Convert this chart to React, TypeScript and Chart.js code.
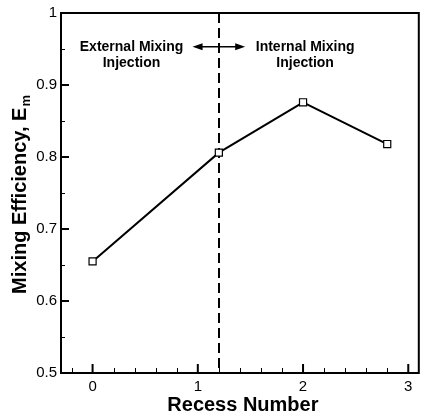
import { useEffect, useRef } from "react";
import { Chart, registerables } from "chart.js";

Chart.register(...registerables);

// ---- data ----
const RECESS = [0, 1.2, 2, 2.8];
const EFFICIENCY = [0.655, 0.806, 0.876, 0.818];

// ---- axes ----
const X_MIN = -0.3;
const X_MAX = 3.1;
const Y_MIN = 0.5;
const Y_MAX = 1;
const X_MAJOR = [0, 1, 2, 3];
const X_MINOR = [-0.2, 0.2, 0.4, 0.6, 0.8, 1.2, 1.4, 1.6, 1.8, 2.2, 2.4, 2.6, 2.8, 3.0];
const Y_MAJOR = [0.5, 0.6, 0.7, 0.8, 0.9, 1];
const Y_MINOR = [0.55, 0.65, 0.75, 0.85, 0.95];

// ---- annotations ----
const DIVIDER_X = 1.2;
const LEFT_LABEL = ["External Mixing", "Injection"];
const RIGHT_LABEL = ["Internal Mixing", "Injection"];
const LEFT_LABEL_X = 0.37;
const RIGHT_LABEL_X = 2.02;
const LABEL_Y = [0.953, 0.9305];
const ARROW_FROM = 0.95;
const ARROW_TO = 1.45;
const ARROW_Y = 0.953;

const X_TITLE = "Recess Number";
const Y_TITLE = "Mixing Efficiency, E";
const Y_TITLE_SUB = "m";

const FONT = "'Liberation Sans', Arial, Helvetica, sans-serif";

const decor = {
  id: "decor",
  beforeDatasetsDraw(chart: any) {
    const { ctx, scales, chartArea: a } = chart;
    const x = scales.x;
    ctx.save();
    ctx.strokeStyle = "#000";
    ctx.lineWidth = 2;
    ctx.setLineDash([10, 5]);
    const px = Math.round(x.getPixelForValue(DIVIDER_X));
    ctx.beginPath();
    ctx.moveTo(px, a.top);
    ctx.lineTo(px, a.bottom);
    ctx.stroke();
    ctx.restore();
  },
  afterDatasetsDraw(chart: any) {
    const { ctx, scales, chartArea: a } = chart;
    const x = scales.x;
    const y = scales.y;
    ctx.save();
    ctx.strokeStyle = "#000";
    ctx.fillStyle = "#000";
    ctx.setLineDash([]);

    // frame
    ctx.lineWidth = 2;
    ctx.strokeRect(a.left, a.top, a.right - a.left, a.bottom - a.top);

    // inward ticks
    ctx.lineWidth = 2;
    ctx.beginPath();
    for (const v of X_MAJOR) {
      const p = x.getPixelForValue(v);
      ctx.moveTo(p, a.bottom);
      ctx.lineTo(p, a.bottom - 9);
    }
    for (const v of Y_MAJOR) {
      const p = y.getPixelForValue(v);
      ctx.moveTo(a.left, p);
      ctx.lineTo(a.left + 8, p);
    }
    ctx.stroke();
    ctx.lineWidth = 1;
    ctx.beginPath();
    for (const v of X_MINOR) {
      const p = Math.round(x.getPixelForValue(v)) + 0.5;
      ctx.moveTo(p, a.bottom);
      ctx.lineTo(p, a.bottom - 5);
    }
    for (const v of Y_MINOR) {
      const p = Math.round(y.getPixelForValue(v)) + 0.5;
      ctx.moveTo(a.left, p);
      ctx.lineTo(a.left + 4, p);
    }
    ctx.stroke();

    // double arrow
    const ay = y.getPixelForValue(ARROW_Y);
    const ax1 = x.getPixelForValue(ARROW_FROM);
    const ax2 = x.getPixelForValue(ARROW_TO);
    ctx.lineWidth = 1.5;
    ctx.beginPath();
    ctx.moveTo(ax1 + 6, ay);
    ctx.lineTo(ax2 - 6, ay);
    ctx.stroke();
    ctx.beginPath();
    ctx.moveTo(ax1, ay);
    ctx.lineTo(ax1 + 10, ay - 3.5);
    ctx.lineTo(ax1 + 10, ay + 3.5);
    ctx.closePath();
    ctx.fill();
    ctx.beginPath();
    ctx.moveTo(ax2, ay);
    ctx.lineTo(ax2 - 10, ay - 3.5);
    ctx.lineTo(ax2 - 10, ay + 3.5);
    ctx.closePath();
    ctx.fill();

    // region labels
    ctx.font = `bold 14px ${FONT}`;
    ctx.textAlign = "center";
    ctx.textBaseline = "middle";
    LEFT_LABEL.forEach((t, i) => {
      ctx.fillText(t, x.getPixelForValue(LEFT_LABEL_X), y.getPixelForValue(LABEL_Y[i]));
    });
    RIGHT_LABEL.forEach((t, i) => {
      ctx.fillText(t, x.getPixelForValue(RIGHT_LABEL_X), y.getPixelForValue(LABEL_Y[i]));
    });

    // x title
    ctx.font = `bold 20px ${FONT}`;
    ctx.fillText(X_TITLE, (a.left + a.right) / 2 + 3, 405);

    // y title with subscript
    ctx.save();
    ctx.translate(20, (a.top + a.bottom) / 2 + 2);
    ctx.rotate(-Math.PI / 2);
    ctx.font = `bold 20px ${FONT}`;
    const w1 = ctx.measureText(Y_TITLE).width;
    ctx.font = `bold 13px ${FONT}`;
    const w2 = ctx.measureText(Y_TITLE_SUB).width;
    const start = -(w1 + w2) / 2;
    ctx.textAlign = "left";
    ctx.font = `bold 20px ${FONT}`;
    ctx.fillText(Y_TITLE, start, 0);
    ctx.font = `bold 13px ${FONT}`;
    ctx.fillText(Y_TITLE_SUB, start + w1 + 1, 6);
    ctx.restore();

    ctx.restore();
  },
};

export default function App() {
  const ref = useRef<HTMLCanvasElement | null>(null);
  useEffect(() => {
    if (!ref.current) return;
    const chart = new Chart(ref.current, {
      type: "scatter",
      data: {
        datasets: [
          {
            data: RECESS.map((r, i) => ({ x: r, y: EFFICIENCY[i] })),
            showLine: true,
            borderColor: "#000",
            borderWidth: 2,
            pointStyle: "rect",
            pointRadius: 5,
            pointBackgroundColor: "#fff",
            pointBorderColor: "#000",
            pointBorderWidth: 1.2,
          },
        ],
      },
      options: {
        responsive: false,
        animation: false,
        events: [],
        layout: { padding: { left: 0, right: 2, top: 12, bottom: 0 } },
        plugins: { legend: { display: false }, tooltip: { enabled: false } },
        scales: {
          x: {
            type: "linear",
            min: X_MIN,
            max: X_MAX,
            grid: { display: false, drawTicks: false },
            border: { display: false },
            afterBuildTicks: (s: any) => {
              s.ticks = X_MAJOR.map((v) => ({ value: v }));
            },
            afterFit: (s: any) => {
              s.height = 42;
            },
            ticks: {
              color: "#000",
              padding: 5,
              maxRotation: 0,
              font: { family: FONT, size: 15 },
              callback: (v: any) => String(v),
            },
          },
          y: {
            type: "linear",
            min: Y_MIN,
            max: Y_MAX,
            grid: { display: false, drawTicks: false },
            border: { display: false },
            afterBuildTicks: (s: any) => {
              s.ticks = Y_MAJOR.map((v) => ({ value: v }));
            },
            afterFit: (s: any) => {
              s.width = 61;
            },
            ticks: {
              color: "#000",
              padding: 4,
              font: { family: FONT, size: 15 },
              callback: (v: any) => String(Number(Number(v).toFixed(2))),
            },
          },
        },
      },
      plugins: [decor],
    });
    return () => chart.destroy();
  }, []);
  return (
    <div style={{ position: "absolute", left: 0, top: 0, width: 425, height: 415, background: "#fff" }}>
      <canvas ref={ref} width={425} height={415} style={{ display: "block" }} />
    </div>
  );
}
